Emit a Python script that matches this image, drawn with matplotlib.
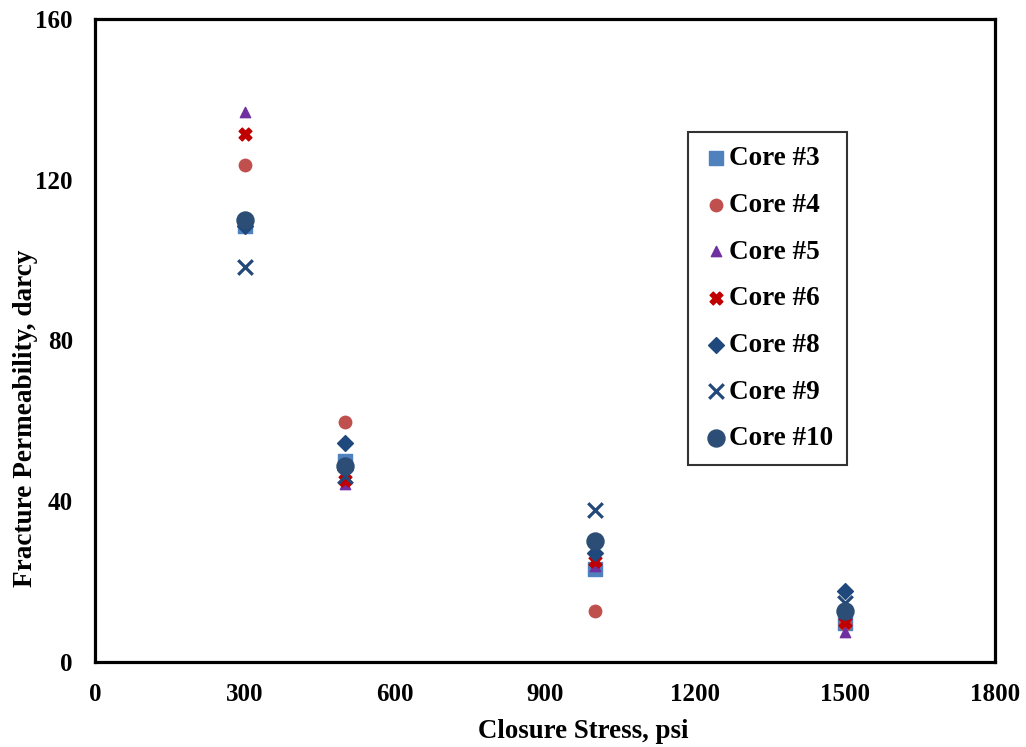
import matplotlib
matplotlib.use("Agg")
import matplotlib.pyplot as plt

plt.rcParams['font.family'] = ['Liberation Serif', 'DejaVu Serif']
plt.rcParams['font.weight'] = 'bold'

# Closure stress levels (psi)
stress = [300, 500, 1000, 1500]

# Fracture permeability (darcy) per core
core3 = [108.5, 50.1, 23.1, 9.8]
core4 = [123.6, 59.6, 12.7, 9.4]
core5 = [136.8, 44.3, 23.9, 7.5]
core6 = [131.3, 45.3, 25.2, 10.0]
core8 = [108.4, 54.4, 27.2, 17.7]
core9 = [98.4, 46.4, 37.8, 14.8]
core10 = [109.9, 48.8, 30.2, 12.7]

series = [
    ("Core #3", core3, dict(marker='s', color='#4F81BD', s=105)),
    ("Core #4", core4, dict(marker='o', color='#C0504D', s=80)),
    ("Core #5", core5, dict(marker='^', color='#7030A0', s=55)),
    ("Core #6", core6, dict(marker='X', color='#C00000', s=85)),
    ("Core #8", core8, dict(marker='D', color='#1F497D', s=65)),
    ("Core #9", core9, dict(marker='x', color='#23497A', s=110, linewidths=2.3)),
    ("Core #10", core10, dict(marker='o', color='#2C4D75', s=150)),
]

fig = plt.figure(figsize=(10.26, 7.47), dpi=100)
ax = fig.add_axes([0.0926, 0.1138, 0.8772, 0.8608])

for name, vals, style in series:
    ax.scatter(stress, vals, label=name, zorder=3, **style)

ax.set_xlim(0, 1800)
ax.set_ylim(0, 160)
ax.set_xticks(range(0, 1801, 300))
ax.set_yticks(range(0, 161, 40))
ax.tick_params(axis='x', length=0, labelsize=18, pad=15)
ax.tick_params(axis='y', length=0, labelsize=18, pad=16)
for lbl in ax.get_xticklabels() + ax.get_yticklabels():
    lbl.set_fontweight('bold')
for sp in ax.spines.values():
    sp.set_linewidth(2.3)
    sp.set_color('black')

# Axis titles
fig.text(0.568, 0.0214, "Closure Stress, psi", fontsize=19.4, fontweight='bold',
         ha='center', va='center')
fig.text(0.0244, 0.4404, "Fracture Permeability, darcy", fontsize=19.6,
         fontweight='bold', rotation=90, ha='center', va='center')

leg = ax.legend(loc='upper left', bbox_to_anchor=(0.659, 0.824),
                frameon=True, fancybox=False,
                prop={'weight': 'bold', 'size': 19.5},
                handletextpad=0.0, labelspacing=0.80, borderpad=0.52,
                handlelength=1.0, borderaxespad=0)
leg.get_frame().set_edgecolor('black')
leg.get_frame().set_linewidth(1.5)

fig.savefig("out.png", dpi=100)
